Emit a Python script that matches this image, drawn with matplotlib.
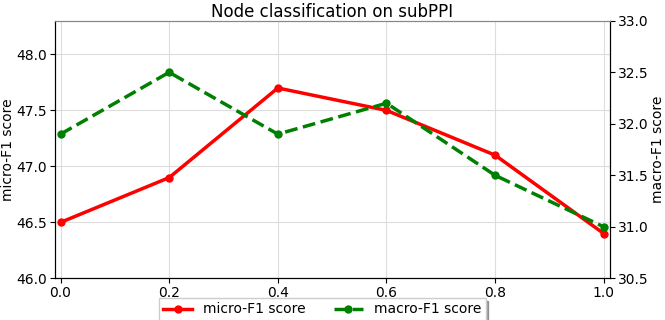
import numpy as np
import matplotlib
matplotlib.use("Agg")
import matplotlib.pyplot as plt

ratio = [0.0, 0.2, 0.4, 0.6, 0.8, 1.0]
micro_f1 = [46.5, 46.9, 47.7, 47.5, 47.1, 46.4]
macro_f1 = [31.9, 32.5, 31.9, 32.2, 31.5, 31.0]

fig, ax = plt.subplots(figsize=(6.65, 3.2), dpi=100)
fig.subplots_adjust(left=0.082, right=0.917, top=0.935, bottom=0.13)

l1, = ax.plot(ratio, micro_f1, '-o', color='red', lw=2.5, ms=5, label='micro-F1 score')
ax.set_ylim(46.0, 48.3)
ax.set_xlim(-0.011, 1.011)
ax.set_ylabel('micro-F1 score', fontsize=10, labelpad=1)
ax.set_xticks(ratio)
ax.grid(color='#dddddd', lw=0.8)
ax.tick_params(labelsize=10, pad=2)

ax2 = ax.twinx()
l2, = ax2.plot(ratio, macro_f1, '--o', color='green', lw=2.5, ms=5, label='macro-F1 score')
ax2.set_ylim(30.5, 33.0)
ax2.set_ylabel('macro-F1 score', fontsize=10, labelpad=2)
ax2.tick_params(labelsize=10, pad=2)
ax.spines['top'].set_color('#888888')
ax2.spines['top'].set_color('#888888')

ax.set_title('Node classification on subPPI', fontsize=12, pad=3)
ax.legend(handles=[l1, l2], loc='upper center', bbox_to_anchor=(0.482, -0.05),
          ncol=2, fontsize=10, shadow=True, fancybox=False, borderpad=0.3,
          handlelength=2.1, columnspacing=2.0, handletextpad=0.8)

plt.savefig('out.png')
